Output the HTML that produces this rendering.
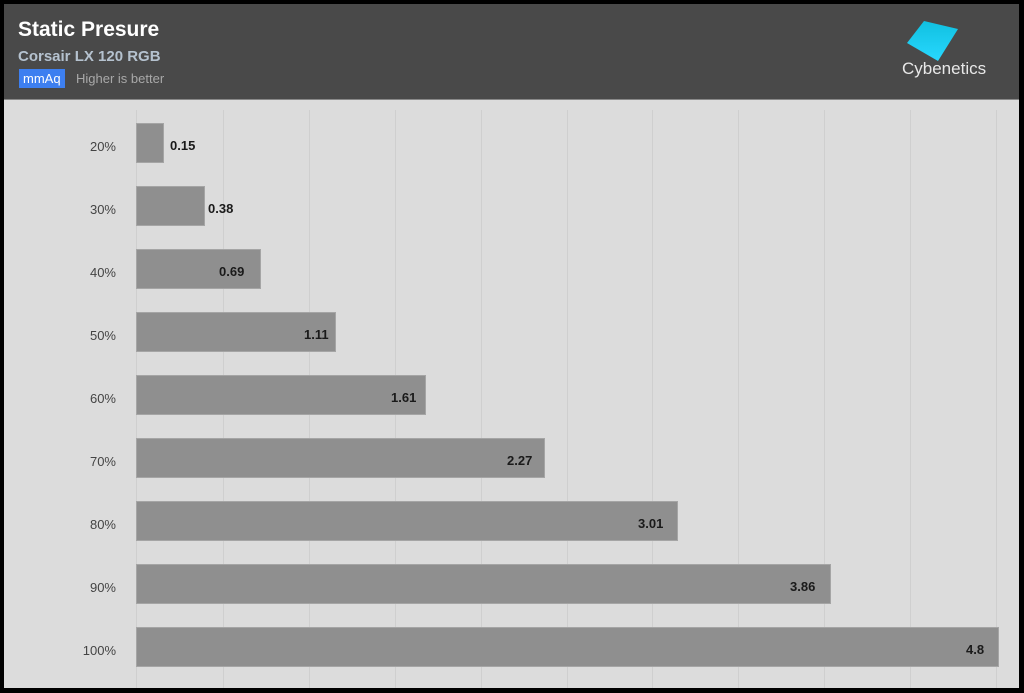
<!DOCTYPE html>
<html><head><meta charset="utf-8"><style>
html,body{margin:0;padding:0;width:1024px;height:693px;overflow:hidden;background:#000;font-family:"Liberation Sans",sans-serif}
#frame{position:absolute;left:4px;top:4px;width:1015px;height:684px;background:#dcdcdc;overflow:hidden}
#hdr{position:absolute;left:0;top:0;width:1015px;height:95px;background:#494949;border-bottom:1px solid #888}
.t{position:absolute;color:#fff}
.g{position:absolute;top:106px;height:580px;width:1px;background:#cfcfcf}
.bar{position:absolute;left:132px;height:40px;background:#8f8f8f;border:1px solid #a5a5a5;box-sizing:border-box}
.cat{position:absolute;width:112px;text-align:right;font-size:13px;color:#444}
.val{position:absolute;font-size:13px;font-weight:bold;color:#1a1a1a}
</style></head><body>
<div id="frame">
<div id="hdr">
<div class="t" style="left:14px;top:14px;font-size:21px;font-weight:bold">Static Presure</div>
<div class="t" style="left:14px;top:44px;font-size:15px;font-weight:bold;color:#b5c2cf">Corsair LX 120 RGB</div>
<div class="t" style="left:15px;top:65px;background:#3d7ff0;font-size:13px;padding:2px 4px;line-height:15px">mmAq</div>
<div class="t" style="left:72px;top:67px;font-size:13px;color:#a8a8a8">Higher is better</div>
<svg style="position:absolute;left:900px;top:14px" width="60" height="50"><defs><linearGradient id="lg" x1="0" y1="0" x2="0" y2="1"><stop offset="0" stop-color="#10c0e0"/><stop offset="1" stop-color="#28d8ff"/></linearGradient></defs><polygon points="20,3 54,11 34,43 3,25" fill="url(#lg)"/></svg>
<div class="t" style="left:898px;top:55px;font-size:17px;color:#e8e8e8">Cybenetics</div>
</div>
<div class="g" style="left:132px"></div><div class="g" style="left:219px"></div><div class="g" style="left:305px"></div><div class="g" style="left:391px"></div><div class="g" style="left:477px"></div><div class="g" style="left:563px"></div><div class="g" style="left:648px"></div><div class="g" style="left:734px"></div><div class="g" style="left:820px"></div><div class="g" style="left:906px"></div><div class="g" style="left:992px"></div>

<div class="cat" style="top:135px">20%</div><div class="bar" style="top:119px;width:28px"></div><div class="val" style="top:134px;left:166px">0.15</div>
<div class="cat" style="top:198px">30%</div><div class="bar" style="top:182px;width:69px"></div><div class="val" style="top:197px;left:204px">0.38</div>
<div class="cat" style="top:261px">40%</div><div class="bar" style="top:245px;width:125px"></div><div class="val" style="top:260px;left:215px">0.69</div>
<div class="cat" style="top:324px">50%</div><div class="bar" style="top:308px;width:200px"></div><div class="val" style="top:323px;left:300px">1.11</div>
<div class="cat" style="top:387px">60%</div><div class="bar" style="top:371px;width:290px"></div><div class="val" style="top:386px;left:387px">1.61</div>
<div class="cat" style="top:450px">70%</div><div class="bar" style="top:434px;width:409px"></div><div class="val" style="top:449px;left:503px">2.27</div>
<div class="cat" style="top:513px">80%</div><div class="bar" style="top:497px;width:542px"></div><div class="val" style="top:512px;left:634px">3.01</div>
<div class="cat" style="top:576px">90%</div><div class="bar" style="top:560px;width:695px"></div><div class="val" style="top:575px;left:786px">3.86</div>
<div class="cat" style="top:639px">100%</div><div class="bar" style="top:623px;width:863px"></div><div class="val" style="top:638px;left:962px">4.8</div>
</div>
</body></html>
